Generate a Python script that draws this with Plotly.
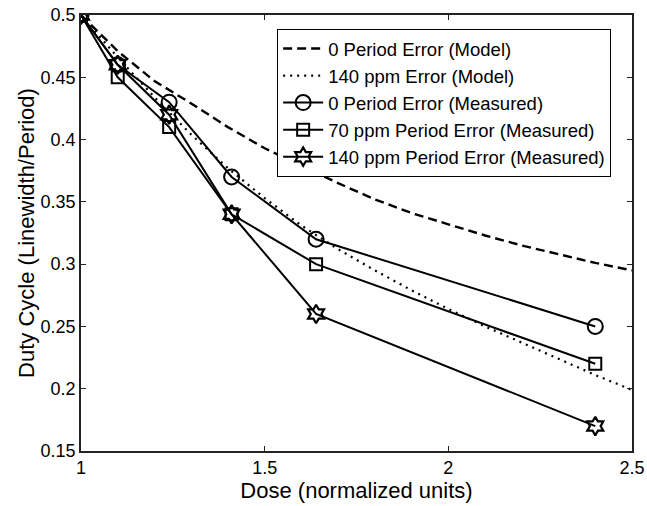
import plotly.graph_objects as go

# ---- data ----
dose_meas = [1.0, 1.1, 1.24, 1.41, 1.64, 2.4]
meas_0ppm = [0.5, 0.46, 0.43, 0.37, 0.32, 0.25]
meas_70ppm = [0.5, 0.45, 0.41, 0.34, 0.30, 0.22]
meas_140ppm = [0.5, 0.46, 0.42, 0.34, 0.26, 0.17]

dose_model = [1.0, 1.1, 1.2, 1.3, 1.4, 1.5, 1.6, 1.7, 1.8, 1.9, 2.0, 2.1, 2.2, 2.3, 2.4, 2.5]
model_0 = [0.5, 0.471, 0.447, 0.429, 0.410, 0.393, 0.379, 0.365, 0.352, 0.341, 0.332, 0.323, 0.315, 0.308, 0.301, 0.295]
model_140 = [0.5, 0.466, 0.434, 0.404, 0.377, 0.353, 0.331, 0.312, 0.295, 0.279, 0.264, 0.250, 0.237, 0.224, 0.211, 0.199]

x_ticks = [1, 1.5, 2, 2.5]
x_ticktext = ["1", "1.5", "2", "2.5"]
y_ticks = [0.15, 0.2, 0.25, 0.3, 0.35, 0.4, 0.45, 0.5]
y_ticktext = ["0.15", "0.2", "0.25", "0.3", "0.35", "0.4", "0.45", "0.5"]

FONT = "Liberation Sans, Arial, Helvetica, sans-serif"

fig = go.Figure()
fig.add_trace(go.Scatter(x=dose_model, y=model_0, mode="lines",
                         name="0 Period Error (Model)",
                         line=dict(color="black", width=2.4, dash="9px,5px")))
fig.add_trace(go.Scatter(x=dose_model, y=model_140, mode="lines",
                         name="140 ppm Error (Model)",
                         line=dict(color="black", width=2.2, dash="2px,5px")))
fig.add_trace(go.Scatter(x=dose_meas, y=meas_0ppm, mode="lines+markers",
                         name="0 Period Error (Measured)",
                         line=dict(color="black", width=2),
                         marker=dict(symbol="circle-open", size=15, color="black",
                                     line=dict(width=2, color="black"))))
fig.add_trace(go.Scatter(x=dose_meas, y=meas_70ppm, mode="lines+markers",
                         name="70 ppm Period Error (Measured)",
                         line=dict(color="black", width=2),
                         marker=dict(symbol="square-open", size=12, color="black",
                                     line=dict(width=2, color="black"))))
fig.add_trace(go.Scatter(x=dose_meas, y=meas_140ppm, mode="lines+markers",
                         name="140 ppm Period Error (Measured)",
                         line=dict(color="black", width=2),
                         marker=dict(symbol="hexagram-open", size=14, color="black",
                                     line=dict(width=2.2, color="black"))))

axis_common = dict(showgrid=False, zeroline=False, showline=True, linecolor="#222",
                   linewidth=1.5, mirror="ticks", ticks="inside", ticklen=5,
                   tickcolor="#222", automargin=False, ticklabeloverflow="allow",
                   tickfont=dict(size=18, color="black", family=FONT))

fig.update_layout(
    width=647, height=506,
    margin=dict(l=81, r=15, t=15, b=55),
    paper_bgcolor="white", plot_bgcolor="white",
    font=dict(family=FONT, color="black"),
    xaxis=dict(range=[1, 2.5], tickvals=x_ticks, ticktext=x_ticktext,
               title=dict(text="Dose (normalized units)", font=dict(size=22), standoff=2),
               **axis_common),
    yaxis=dict(range=[0.15, 0.5], tickvals=y_ticks, ticktext=y_ticktext,
               title=dict(text="Duty Cycle (Linewidth/Period)", font=dict(size=22), standoff=0),
               **axis_common),
    legend=dict(x=0.356, y=0.968, xanchor="left", yanchor="top",
                bordercolor="black", borderwidth=1, bgcolor="white",
                font=dict(size=18.5, family=FONT, color="black"),
                itemwidth=40, tracegroupgap=0),
    showlegend=True,
)

# remove the default page margin so the 647x506 figure fills the window exactly
fig.write_html("out.html", config={"displayModeBar": False},
               post_script="document.body.style.margin='0';document.body.style.overflow='hidden';")
